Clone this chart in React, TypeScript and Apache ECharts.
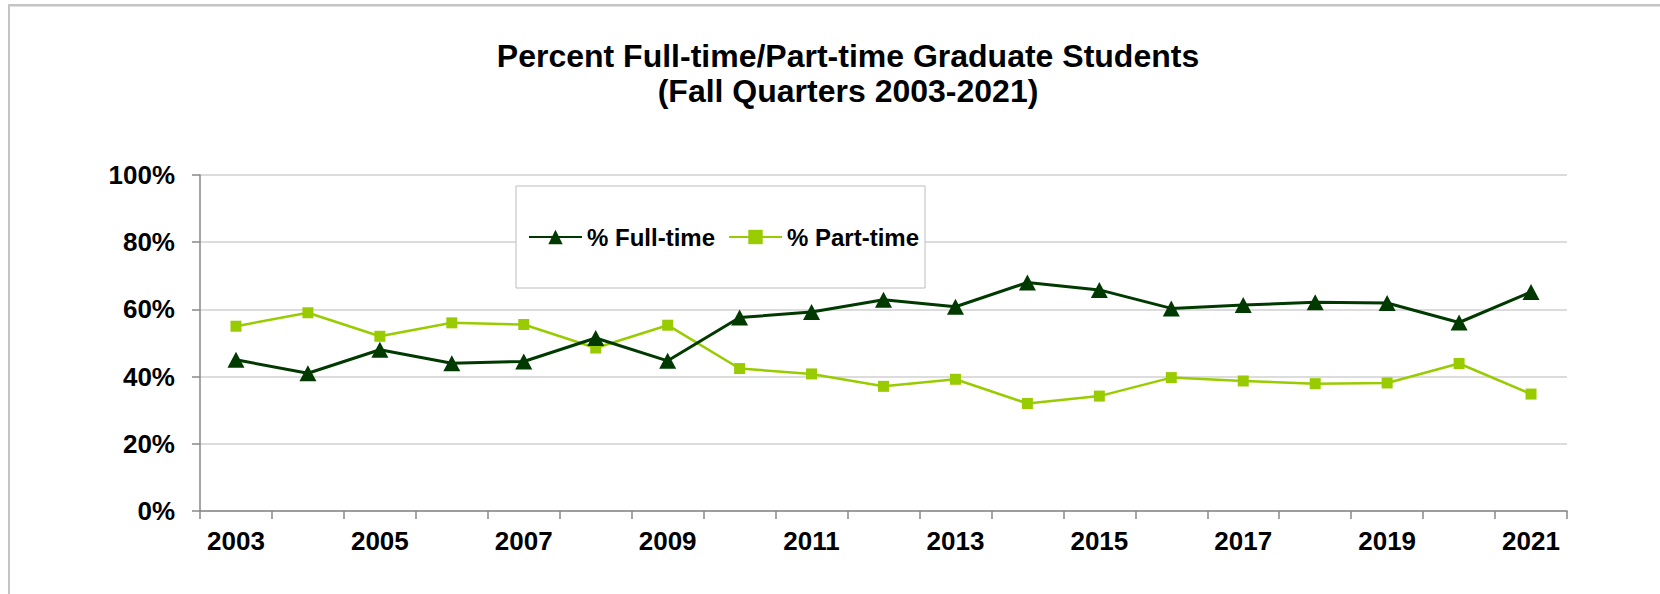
import React, { useEffect, useRef } from "react";
import * as echarts from "echarts";

const years = ["2003","2004","2005","2006","2007","2008","2009","2010","2011","2012","2013","2014","2015","2016","2017","2018","2019","2020","2021"];
const fullTime = [45.0, 41.0, 48.0, 44.0, 44.5, 51.5, 44.7, 57.6, 59.2, 62.9, 60.8, 68.0, 65.8, 60.3, 61.3, 62.1, 61.9, 56.1, 65.2];
const partTime = [55.0, 59.0, 52.0, 56.0, 55.5, 48.5, 55.3, 42.4, 40.8, 37.1, 39.2, 32.0, 34.2, 39.7, 38.7, 37.9, 38.1, 43.9, 34.8];
const yTicks = [0, 20, 40, 60, 80, 100];

const FONT = "'Liberation Sans', Arial, sans-serif";

export default function App() {
  const ref = useRef<HTMLDivElement>(null);
  useEffect(() => {
    if (!ref.current) return;
    const chart = echarts.init(ref.current, null, { renderer: "svg" });
    chart.setOption({
      animation: false,
      backgroundColor: "#ffffff",
      title: {
        text: "Percent Full-time/Part-time Graduate Students\n(Fall Quarters 2003-2021)",
        left: 848,
        textAlign: "center",
        top: 38,
        padding: 0,
        textStyle: { fontFamily: FONT, fontWeight: "bold", fontSize: 32, lineHeight: 35, color: "#000" },
      },
      graphic: [
        { type: "rect", shape: { x: 8, y: 4, width: 1652, height: 2.5 }, style: { fill: "#c4c4c4" }, silent: true },
        { type: "rect", shape: { x: 8, y: 4, width: 2, height: 590 }, style: { fill: "#c4c4c4" }, silent: true },
      ],
      legend: {
        left: 516,
        top: 186,
        padding: [39, 6, 39, 12],
        itemWidth: 53,
        itemHeight: 18,
        itemGap: 13,
        backgroundColor: "#ffffff",
        borderColor: "#bdbdbd",
        borderWidth: 1,
        textStyle: { fontFamily: FONT, fontWeight: "bold", fontSize: 24, color: "#000" },
        data: ["% Full-time", "% Part-time"],
      },
      grid: { left: 200, right: 93, top: 175, bottom: 83, containLabel: false },
      xAxis: {
        type: "category",
        data: years,
        boundaryGap: true,
        axisLine: { lineStyle: { color: "#888888", width: 1.5 } },
        axisTick: { show: true, interval: 0, length: 8, lineStyle: { color: "#888888", width: 1.5 } },
        axisLabel: { interval: 1, margin: 17, fontFamily: FONT, fontWeight: "bold", fontSize: 26, color: "#000" },
        splitLine: { show: false },
      },
      yAxis: {
        type: "value",
        min: yTicks[0],
        max: yTicks[yTicks.length - 1],
        interval: 20,
        axisLine: { show: true, lineStyle: { color: "#888888", width: 1.5 } },
        axisTick: { show: true, length: 8, lineStyle: { color: "#888888", width: 1.5 } },
        axisLabel: { margin: 25, formatter: "{value}%", fontFamily: FONT, fontWeight: "bold", fontSize: 26, color: "#000" },
        splitLine: { show: true, lineStyle: { color: "#d0d0d0", width: 1.5 } },
      },
      series: [
        {
          name: "% Full-time",
          type: "line",
          data: fullTime,
          symbol: "triangle",
          symbolSize: [17, 16],
          showAllSymbol: true,
          color: "#003a00",
          lineStyle: { color: "#003a00", width: 3 },
          itemStyle: { color: "#003a00" },
          z: 3,
        },
        {
          name: "% Part-time",
          type: "line",
          data: partTime,
          symbol: "rect",
          symbolSize: 11,
          showAllSymbol: true,
          color: "#99cc00",
          lineStyle: { color: "#99cc00", width: 2.5 },
          itemStyle: { color: "#99cc00" },
          z: 2,
        },
      ],
    });
    return () => chart.dispose();
  }, []);
  return (
    <div
      ref={ref}
      style={{ position: "fixed", left: 0, top: 0, width: 1660, height: 594, background: "#fff" }}
    />
  );
}
